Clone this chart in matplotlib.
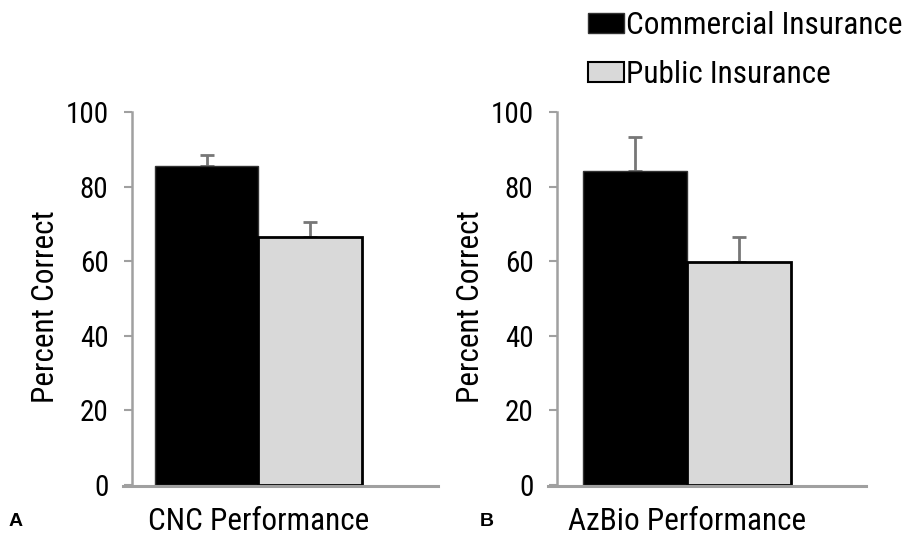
import matplotlib
matplotlib.use("Agg")
import matplotlib.pyplot as plt
from matplotlib.lines import Line2D
from matplotlib.patches import Patch

plt.rcParams['font.family'] = ['Roboto Condensed', 'Liberation Sans', 'DejaVu Sans']

groups = ["Commercial Insurance", "Public Insurance"]
colors = ["#000000", "#d9d9d9"]
panels = ["CNC Performance", "AzBio Performance"]
panel_letters = ["A", "B"]
means = [[85.6, 66.5], [84.1, 59.8]]
errs = [[2.8, 4.0], [9.3, 6.7]]
yticks = [0, 20, 40, 60, 80, 100]

fig = plt.figure(figsize=(9.06, 5.35), dpi=100)
W, H = 906, 535
axes_px = [(132, 438, -0.722, 2.234), (557, 866, -0.75, 2.22)]
axis_grey = "#a0a0a0"

for i, (l, r, x0, x1) in enumerate(axes_px):
    ax = fig.add_axes([l / W, 1 - 485 / H, (r - l) / W, (485 - 112) / H])
    xs = [0, 1]
    ax.bar(xs, means[i], width=1.0, color=colors, edgecolor=["#333333", "#000000"],
           linewidth=[1.0, 2.0], zorder=2)
    for x, m, e in zip(xs, means[i], errs[i]):
        ax.errorbar(x, m, yerr=[[0], [e]], fmt="none", ecolor="#777777",
                    elinewidth=2.0, capsize=4.8, capthick=2.0, zorder=1)
    ax.set_xlim(x0, x1)
    ax.set_ylim(0, 100)
    ax.set_yticks(yticks)
    ax.set_xticks([])
    ax.tick_params(axis="y", length=6, width=1.5, color=axis_grey, pad=11, labelsize=21)
    for s in ["top", "right"]:
        ax.spines[s].set_visible(False)
    ax.spines["left"].set_color(axis_grey)
    ax.spines["left"].set_linewidth(1.8)
    ax.spines["bottom"].set_visible(False)
    ax.add_line(Line2D([-9 / (r - l), 1], [-0.004, -0.004], transform=ax.transAxes,
                       color=axis_grey, lw=2.2, clip_on=False))
    ax.set_ylabel("Percent Correct", fontsize=22.5, labelpad=4)
    ax.yaxis.label.set_y(0.477)
    xc = (ax.transData.transform((0.5, 0))[0]) / W
    fig.text(xc, 1 - 521 / H, panels[i], ha="center", va="center", fontsize=22.5)

for letter, xpx in zip(panel_letters, [16, 487]):
    fig.text(xpx / W, 1 - 522 / H, letter, ha="center", va="center",
             fontsize=14, fontweight="bold", family=['Liberation Sans', 'DejaVu Sans'])

handles = [Patch(facecolor=colors[0], edgecolor="#333333", linewidth=1.0),
           Patch(facecolor=colors[1], edgecolor="#000000", linewidth=1.5)]
fig.legend(handles, groups, loc="upper left", bbox_to_anchor=(588 / W, 1 - 11 / H),
           frameon=False, fontsize=22.5, handlelength=1.15, handleheight=0.6,
           handletextpad=0.08, labelspacing=0.65, borderaxespad=0, borderpad=0)

fig.savefig("out.png", dpi=100)
